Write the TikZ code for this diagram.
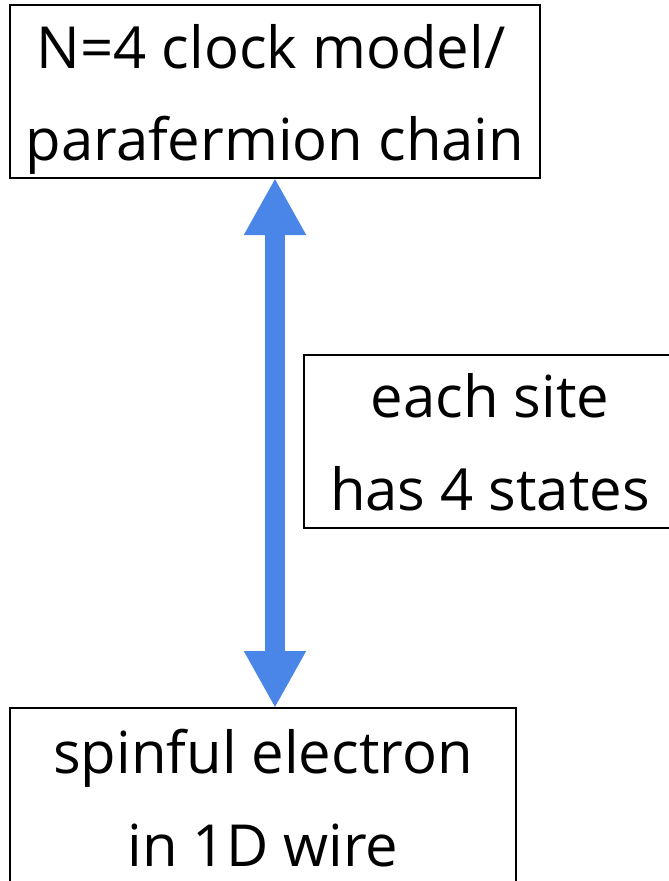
\documentclass[tikz,border=0pt]{standalone}
\usepackage{fontspec}
\setmainfont{Open Sans}
\usetikzlibrary{arrows.meta}
\definecolor{linkblue}{HTML}{4A86E8}
\begin{document}
\begin{tikzpicture}[x=1pt,y=-1pt,
  box/.style={draw=black, line width=2pt, rectangle, inner sep=0pt, outer sep=0pt},
  txt/.style={anchor=base, inner sep=0pt, font=\fontsize{58}{70}\selectfont},
  link/.style={draw=linkblue, line width=20pt,
    {Triangle[length=57pt,width=58pt]}-{Triangle[length=57pt,width=58pt]}}
]
\useasboundingbox (0,0) rectangle (669,881);
% boxes
\node[box, minimum width=530pt, minimum height=173pt] (clock) at (275,91.5) {};
\node[box, minimum width=366pt, minimum height=173pt] (site) at (487,441.5) {};
\node[box, minimum width=506pt, minimum height=190pt] (wire) at (263,803) {};
% box texts
\node[txt] (clock1) at (271,68) {N=4 clock model/};
\node[txt] (clock2) at (275,160) {parafermion chain};
\node[txt] (site1) at (490,417) {each site};
\node[txt] (site2) at (490,510) {has 4 states};
\node[txt] (wire1) at (263,773) {spinful electron};
\node[txt] (wire2) at (263,866) {in 1D wire};
% two-way arrow
\draw[link] (clock.south -| 275,0) -- (wire.north -| 275,0);
\end{tikzpicture}
\end{document}
